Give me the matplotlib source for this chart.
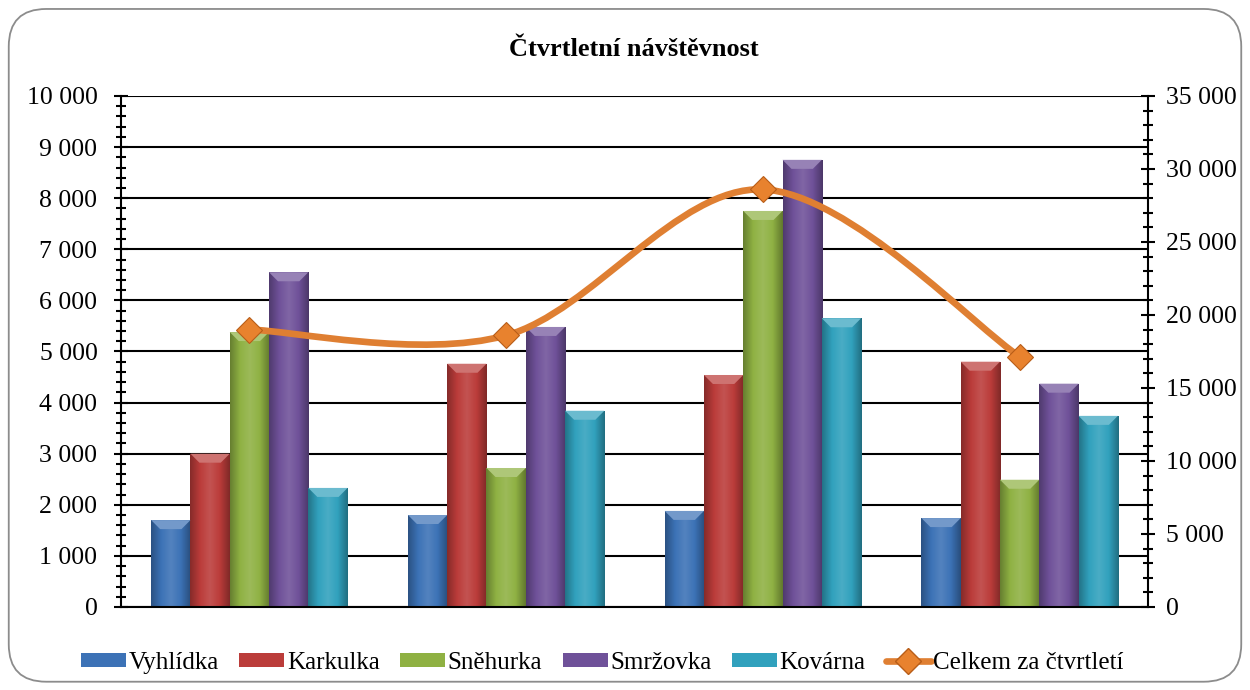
import numpy as np
import matplotlib
matplotlib.use("Agg")
import matplotlib.pyplot as plt
from matplotlib.patches import FancyBboxPatch, Polygon
from matplotlib.path import Path
from matplotlib.patches import PathPatch
from matplotlib.lines import Line2D
from matplotlib.colors import LinearSegmentedColormap, to_rgb
from matplotlib.ticker import MultipleLocator, FuncFormatter

plt.rcParams['font.family'] = ['Liberation Serif', 'DejaVu Serif']

title = "Čtvrtletní návštěvnost"
quarters = ["Q1", "Q2", "Q3", "Q4"]
series = ["Vyhlídka", "Karkulka", "Sněhurka", "Smržovka", "Kovárna"]
vyhlidka = [1700, 1800, 1880, 1740]
karkulka = [3000, 4760, 4540, 4800]
snehurka = [5380, 2720, 7750, 2490]
smrzovka = [6550, 5480, 8750, 4370]
kovarna = [2330, 3840, 5650, 3740]
celkem = [19000, 18600, 28600, 17150]
total_label = "Celkem za čtvrtletí"

colors = ["#3c72b6", "#bb3c3a", "#8fb143", "#6f5199", "#31a1bd"]
line_color = "#df7f32"

fig = plt.figure(figsize=(12.5, 6.9), dpi=100)
fig.patches.append(FancyBboxPatch((0.007, 0.012), 0.986, 0.975,
                                  boxstyle="round,pad=0,rounding_size=0.03",
                                  transform=fig.transFigure, facecolor="white",
                                  edgecolor="#8c8c8c", linewidth=1.3,
                                  mutation_aspect=1.81, zorder=-1))
ax = fig.add_axes([0.0968, 0.1203, 0.8216, 0.7406])
ax.patch.set_alpha(0)

ax.set_ylim(0, 10000)
ax.set_xlim(-0.5, 3.5)
ax.yaxis.set_major_locator(MultipleLocator(1000))
ax.yaxis.set_minor_locator(MultipleLocator(200))
fmt = FuncFormatter(lambda v, p: f"{int(v):,}".replace(",", " "))
ax.yaxis.set_major_formatter(fmt)
ax.grid(axis="y", color="black", linewidth=1.5)
ax.set_axisbelow(True)
ax.set_xticks([])
ax.spines["top"].set_visible(False)
ax.spines["right"].set_visible(False)
ax.spines["left"].set_linewidth(1.5)
ax.spines["bottom"].set_linewidth(1.5)
ax.tick_params(axis="y", which="major", direction="inout", length=10, width=1.5,
               labelsize=18.5, pad=12)
ax.tick_params(axis="y", which="minor", direction="inout", length=7, width=1.5)

data = [vyhlidka, karkulka, snehurka, smrzovka, kovarna]
x = np.arange(len(quarters))
w = 0.153
fig.canvas.draw()
inv = ax.transData.inverted()
bevel = inv.transform((0, 0)) - inv.transform((9, 9))
bdx, bdy = abs(bevel[0]), abs(bevel[1])

for i, (name, vals, c) in enumerate(zip(series, data, colors)):
    bars = ax.bar(x + (i - 2) * w, vals, width=w, color=c, label=name, zorder=2,
                  edgecolor="none")
    base = np.array(to_rgb(c))
    dark = base * 0.72
    light = base + (1 - base) * 0.12
    cmap = LinearSegmentedColormap.from_list("g", [dark, base, light, base, dark * 0.95])
    top_col = base + (1 - base) * 0.28
    for b in bars:
        bx, bw, bh = b.get_x(), b.get_width(), b.get_height()
        im = ax.imshow(np.linspace(0, 1, 64).reshape(1, -1), cmap=cmap, aspect="auto",
                       extent=(bx, bx + bw, 0, bh), zorder=2.1, interpolation="bilinear")
        im.set_clip_path(b)
        ax.add_patch(Polygon([(bx, bh), (bx + bw, bh), (bx + bw - bdx, bh - bdy),
                              (bx + bdx, bh - bdy)], closed=True, facecolor=top_col,
                             edgecolor="none", zorder=2.2))
ax.set_xlim(-0.5, 3.5)
ax.set_ylim(0, 10000)

ax2 = ax.twinx()
ax2.set_ylim(0, 35000)
ax2.yaxis.set_major_locator(MultipleLocator(5000))
ax2.yaxis.set_minor_locator(MultipleLocator(1000))
ax2.yaxis.set_major_formatter(fmt)
for s in ["top", "left", "bottom"]:
    ax2.spines[s].set_visible(False)
ax2.spines["right"].set_linewidth(1.5)
ax2.tick_params(axis="y", which="major", direction="inout", length=10, width=1.5,
                labelsize=18.5, pad=8)
ax2.tick_params(axis="y", which="minor", direction="inout", length=7, width=1.5)

# smoothed line (Excel-style Bezier)
pts = np.column_stack([x, celkem]).astype(float)
ext = np.vstack([pts[0], pts, pts[-1]])
verts = [pts[0]]
codes = [Path.MOVETO]
for k in range(len(pts) - 1):
    p0, p1, p2, p3 = ext[k], ext[k + 1], ext[k + 2], ext[k + 3]
    verts += [p1 + (p2 - p0) / 6, p2 - (p3 - p1) / 6, p2]
    codes += [Path.CURVE4] * 3
ax2.add_patch(PathPatch(Path(verts, codes), facecolor="none", edgecolor=line_color,
                        linewidth=4.8, capstyle="round", zorder=3))
ax2.plot(x, celkem, linestyle="none", marker="D", markersize=13,
         markerfacecolor="#e8822e", markeredgecolor="#b85d18", markeredgewidth=0.8, zorder=4)

fig.text(0.507, 0.928, title, ha="center", va="center", fontsize=19, fontweight="bold")

handles, labels = ax.get_legend_handles_labels()
handles.append(Line2D([], [], color=line_color, linewidth=4.8, marker="D", markersize=13,
                      markerfacecolor="#e8822e", markeredgecolor="#b85d18",
                      solid_capstyle="round"))
labels.append(total_label)
fig.legend(handles, labels, loc="center", bbox_to_anchor=(0.482, 0.039), ncol=6,
           frameon=False, fontsize=18, handlelength=1.8, handleheight=0.5,
           handletextpad=0.1, columnspacing=0.82, borderpad=0)

fig.savefig("out.png", dpi=100)
